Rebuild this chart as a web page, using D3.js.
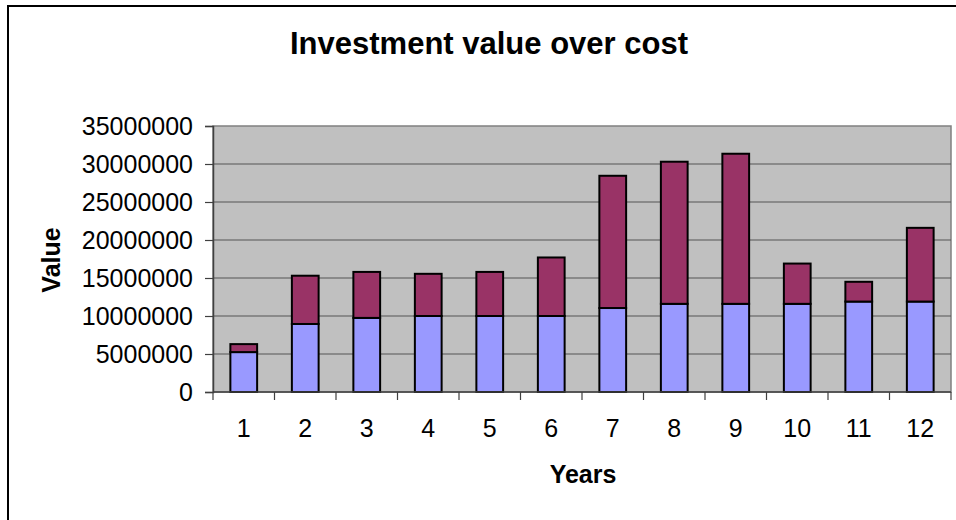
<!DOCTYPE html>
<html>
<head>
<meta charset="utf-8">
<script src="https://cdn.jsdelivr.net/npm/d3@7"></script>
<style>
  body { margin: 0; background: #fff; }
  svg { display: block; font-family: Arial, "Liberation Sans", sans-serif; }
</style>
</head>
<body>
<svg id="chart" width="956" height="520"></svg>
<script>
// data
const years = ['1', '2', '3', '4', '5', '6', '7', '8', '9', '10', '11', '12']
const cost = [5250000, 8950000, 9750000, 10000000, 10000000, 10000000, 11050000, 11600000, 11600000, 11600000, 11900000, 11900000]
const gain = [1050000, 6350000, 6050000, 5550000, 5800000, 7700000, 17400000, 18700000, 19750000, 5300000, 2600000, 9700000]
const yTicks = [0, 5000000, 10000000, 15000000, 20000000, 25000000, 30000000, 35000000]

const width = 956, height = 520
const margin = { top: 126, right: 5, bottom: 128, left: 213 }

const svg = d3.select('#chart')

// outer chart border
svg.append('rect')
    .attr('x', 8).attr('y', 6)
    .attr('width', width).attr('height', height)
    .attr('fill', 'none').attr('stroke', '#000').attr('stroke-width', 2)

const x = d3.scaleBand()
    .domain(years)
    .range([margin.left, width - margin.right])
    .paddingInner(0.565)
    .paddingOuter(0.2825)

const y = d3.scaleLinear()
    .domain([0, 35000000])
    .range([height - margin.bottom, margin.top])

// plot area
svg.append('rect')
    .attr('x', margin.left).attr('y', margin.top)
    .attr('width', width - margin.left - margin.right)
    .attr('height', height - margin.top - margin.bottom)
    .attr('fill', '#c0c0c0')
    .attr('stroke', '#808080').attr('stroke-width', 1.5)

// gridlines
svg.append('g')
    .selectAll('line')
    .data(yTicks.slice(1, -1))
    .enter().append('line')
    .attr('x1', margin.left).attr('x2', width - margin.right)
    .attr('y1', d => y(d)).attr('y2', d => y(d))
    .attr('stroke', '#555').attr('stroke-width', 1.2)

// stacked bars
const stackData = years.map((yr, i) => ({ year: yr, cost: cost[i], gain: gain[i] }))
const series = d3.stack().keys(['cost', 'gain'])(stackData)
const colors = { cost: '#9999ff', gain: '#993366' }

svg.append('g')
    .selectAll('g')
    .data(series)
    .enter().append('g')
    .attr('fill', s => colors[s.key])
    .selectAll('rect')
    .data(s => s)
    .enter().append('rect')
    .attr('x', d => x(d.data.year))
    .attr('width', x.bandwidth())
    .attr('y', d => y(d[1]))
    .attr('height', d => y(d[0]) - y(d[1]))
    .attr('stroke', '#000').attr('stroke-width', 2)

// y axis
const yAxis = svg.append('g')
    .attr('transform', `translate(${margin.left},0)`)
    .call(d3.axisLeft(y).tickValues(yTicks).tickFormat(d3.format('d')).tickSize(8).tickPadding(12))
yAxis.select('.domain').attr('stroke', '#404040').attr('stroke-width', 1.5)
yAxis.selectAll('.tick line').attr('stroke', '#404040').attr('stroke-width', 1.2)
yAxis.selectAll('.tick text').attr('font-size', 25).attr('fill', '#000').attr('font-family', null)

// x axis: ticks at category boundaries, labels centred
const xAxisY = height - margin.bottom
const xg = svg.append('g')
xg.append('line')
    .attr('x1', margin.left).attr('x2', width - margin.right)
    .attr('y1', xAxisY).attr('y2', xAxisY)
    .attr('stroke', '#404040').attr('stroke-width', 1.5)
xg.selectAll('line.tk')
    .data(d3.range(years.length + 1))
    .enter().append('line')
    .attr('class', 'tk')
    .attr('x1', i => margin.left + i * x.step()).attr('x2', i => margin.left + i * x.step())
    .attr('y1', xAxisY).attr('y2', xAxisY + 8)
    .attr('stroke', '#404040').attr('stroke-width', 1.2)
xg.selectAll('text')
    .data(years)
    .enter().append('text')
    .attr('x', d => x(d) + x.bandwidth() / 2)
    .attr('y', 437)
    .attr('text-anchor', 'middle')
    .attr('font-size', 25)
    .text(d => d)

// titles
svg.append('text')
    .attr('x', 489).attr('y', 54)
    .attr('text-anchor', 'middle')
    .attr('font-size', 31).attr('font-weight', 'bold')
    .text('Investment value over cost')

svg.append('text')
    .attr('x', 583).attr('y', 483)
    .attr('text-anchor', 'middle')
    .attr('font-size', 25).attr('font-weight', 'bold')
    .text('Years')

svg.append('text')
    .attr('transform', 'translate(60,260) rotate(-90)')
    .attr('text-anchor', 'middle')
    .attr('font-size', 25).attr('font-weight', 'bold')
    .text('Value')
</script>
</body>
</html>
